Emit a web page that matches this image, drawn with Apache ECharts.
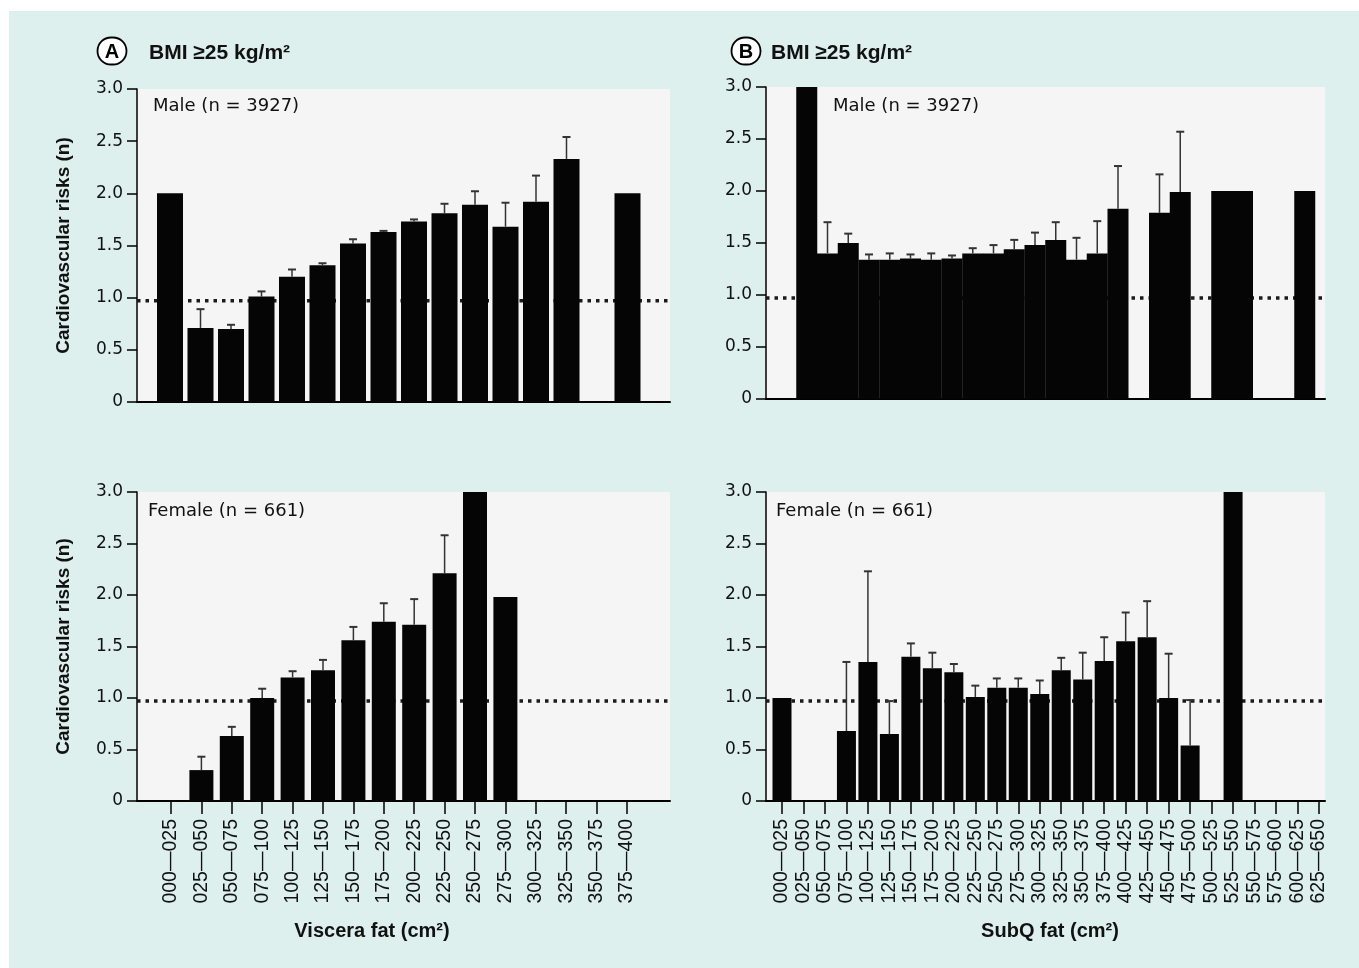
<!DOCTYPE html>
<html><head><meta charset="utf-8">
<script src="https://cdn.jsdelivr.net/npm/echarts@6/dist/echarts.min.js"></script>
<style>
html,body{margin:0;padding:0;background:#fff;}
#bg{position:absolute;left:9px;top:11px;right:0;bottom:0;background:#ddf0ee;}
#chart{position:absolute;left:0;top:0;width:1359px;height:968px;}
</style></head><body><div id="bg"></div><div id="chart"></div>
<script>
// ---------------- data ----------------
const visceraCats = ['000\u2014025','025\u2014050','050\u2014075','075\u2014100','100\u2014125','125\u2014150','150\u2014175','175\u2014200','200\u2014225','225\u2014250','250\u2014275','275\u2014300','300\u2014325','325\u2014350','350\u2014375','375\u2014400'];
const subqCats = ['000\u2014025','025\u2014050','050\u2014075','075\u2014100','100\u2014125','125\u2014150','150\u2014175','175\u2014200','200\u2014225','225\u2014250','250\u2014275','275\u2014300','300\u2014325','325\u2014350','350\u2014375','375\u2014400','400\u2014425','425\u2014450','450\u2014475','475\u2014500','500\u2014525','525\u2014550','550\u2014575','575\u2014600','600\u2014625','625\u2014650'];
const yTicks = [0, 0.5, 1.0, 1.5, 2.0, 2.5, 3.0];
const refLevel = 0.97;

// Male, viscera fat
const maleVisc      = [2.00, 0.71, 0.70, 1.01, 1.20, 1.31, 1.52, 1.63, 1.73, 1.81, 1.89, 1.68, 1.92, 2.33, null, 2.00];
const maleViscUpper = [null, 0.89, 0.74, 1.06, 1.27, 1.33, 1.56, 1.64, 1.75, 1.90, 2.02, 1.91, 2.17, 2.54, null, null];
// Female, viscera fat
const femaleVisc      = [null, 0.30, 0.63, 1.00, 1.20, 1.27, 1.56, 1.74, 1.71, 2.21, 3.00, 1.98, null, null, null, null];
const femaleViscUpper = [null, 0.43, 0.72, 1.09, 1.26, 1.37, 1.69, 1.92, 1.96, 2.58, null, null, null, null, null, null];
// Male, SubQ fat
const maleSubq      = [null, 3.00, 1.40, 1.50, 1.34, 1.34, 1.35, 1.34, 1.35, 1.40, 1.40, 1.44, 1.48, 1.53, 1.34, 1.40, 1.83, null, 1.79, 1.99, null, 2.00, 2.00, null, null, 2.00];
const maleSubqUpper = [null, null, 1.70, 1.59, 1.39, 1.40, 1.39, 1.40, 1.38, 1.45, 1.48, 1.53, 1.60, 1.70, 1.55, 1.71, 2.24, null, 2.16, 2.57, null, null, null, null, null, null];
// Female, SubQ fat
const femaleSubq      = [1.00, null, null, 0.68, 1.35, 0.65, 1.40, 1.29, 1.25, 1.01, 1.10, 1.10, 1.04, 1.27, 1.18, 1.36, 1.55, 1.59, 1.00, 0.54, null, 3.00, null, null, null, null];
const femaleSubqUpper = [null, null, null, 1.35, 2.23, 0.97, 1.53, 1.44, 1.33, 1.12, 1.19, 1.19, 1.17, 1.39, 1.44, 1.59, 1.83, 1.94, 1.43, 0.98, null, null, null, null, null, null];

// ---------------- layout ----------------
const panels = [
  {left:137, top:89,  width:533, height:313, first:170, step:30.5,  barW:26, cats:visceraCats, vals:maleVisc,   up:maleViscUpper,   showX:false, yName:'Cardiovascular risks (n)'},
  {left:766, top:87,  width:559, height:312, first:786, step:20.75, barW:21, cats:subqCats,    vals:maleSubq,   up:maleSubqUpper,   showX:false, yName:''},
  {left:137, top:492, width:533, height:309, first:171, step:30.4,  barW:24, cats:visceraCats, vals:femaleVisc, up:femaleViscUpper, showX:true,  yName:'Cardiovascular risks (n)'},
  {left:766, top:492, width:559, height:309, first:782, step:21.48, barW:19, cats:subqCats,    vals:femaleSubq, up:femaleSubqUpper, showX:true,  yName:''}
];
const FONT = '"DejaVu Sans", sans-serif';
const FONT2 = '"Liberation Sans", Arial, sans-serif';
const INK = '#111';

const grid = [], xAxis = [], yAxis = [], series = [];
panels.forEach((p, k) => {
  const xMin = -(p.first - p.left) / p.step;
  const xMax = xMin + p.width / p.step;
  const idx = p.cats.map((c, i) => i);
  grid.push({left:p.left, top:p.top, width:p.width, height:p.height, show:true, backgroundColor:'#f5f5f5', borderWidth:0});
  xAxis.push({
    type:'value', gridIndex:k, min:xMin, max:xMax,
    axisLine:{show:true, onZero:false, lineStyle:{color:'#000', width:2}},
    splitLine:{show:false},
    axisTick:{show:p.showX, length:13, customValues:idx, lineStyle:{color:'#000', width:1.5}},
    axisLabel:{show:p.showX, customValues:idx, rotate:90, margin:18, fontFamily:FONT2, fontSize:19.5, color:INK,
      formatter: v => p.cats[Math.round(v)] || ''}
  });
  yAxis.push({
    type:'value', gridIndex:k, min:0, max:3, interval:0.5,
    name:p.yName, nameLocation:'middle', nameGap:64, nameRotate:90,
    nameTextStyle:{fontFamily:FONT2, fontWeight:'bold', fontSize:19, color:INK},
    axisLine:{show:true, onZero:false, lineStyle:{color:'#000', width:1.5}},
    axisTick:{show:true, length:10, lineStyle:{color:'#000', width:1.5}},
    splitLine:{show:false},
    axisLabel:{margin:14, fontFamily:FONT, fontSize:17, color:INK,
      formatter: v => v === 0 ? '0' : v.toFixed(1)}
  });
  // reference dotted line
  series.push({
    type:'line', xAxisIndex:k, yAxisIndex:k, z:1, silent:true, symbol:'none', animation:false,
    data:[[xMin, refLevel], [xMax, refLevel]],
    lineStyle:{color:'#1a1a1a', width:3.5, type:[3.5, 5], cap:'butt'}
  });
  // bars
  series.push({
    type:'bar', xAxisIndex:k, yAxisIndex:k, z:3, barWidth:p.barW, animation:false,
    itemStyle:{color:'#050505'},
    data:p.vals.map((v, i) => v == null ? null : [i, v]).filter(d => d)
  });
  // error bars
  series.push({
    type:'custom', xAxisIndex:k, yAxisIndex:k, z:4, animation:false,
    data:p.vals.map((v, i) => (v == null || p.up[i] == null) ? null : [i, v, p.up[i]]).filter(d => d),
    renderItem:(params, api) => {
      const a = api.coord([api.value(0), api.value(1)]);
      const b = api.coord([api.value(0), api.value(2)]);
      const st = {stroke:'#333', lineWidth:1.5};
      return {type:'group', children:[
        {type:'line', shape:{x1:a[0], y1:a[1], x2:b[0], y2:b[1]}, style:st},
        {type:'line', shape:{x1:b[0]-4, y1:b[1], x2:b[0]+4, y2:b[1]}, style:{stroke:'#333', lineWidth:2}}
      ]};
    }
  });
});

function circled(letter, cx, cy) {
  return {type:'group', x:cx, y:cy, children:[
    {type:'rect', shape:{x:-14.5, y:-13.5, width:29, height:27, r:13.5}, style:{fill:'#fff', stroke:'#000', lineWidth:1.8}},
    {type:'text', style:{text:letter, x:0, y:1, font:'bold 20px ' + FONT2, fill:'#000', textAlign:'center', textVerticalAlign:'middle'}}
  ]};
}
function txt(s, x, y, font, align) {
  return {type:'text', style:{text:s, x:x, y:y, font:font, fill:INK, textAlign:align || 'left', textVerticalAlign:'middle'}};
}

const graphic = [
  circled('A', 112, 51),
  circled('B', 746, 51),
  txt('BMI \u226525 kg/m\u00b2', 149, 53, 'bold 21px ' + FONT2),
  txt('BMI \u226525 kg/m\u00b2', 771, 53, 'bold 21px ' + FONT2),
  txt('Male (n = 3927)', 153, 106, '18px ' + FONT),
  txt('Male (n = 3927)', 833, 106, '18px ' + FONT),
  txt('Female (n = 661)', 148, 511, '18px ' + FONT),
  txt('Female (n = 661)', 776, 511, '18px ' + FONT),
  txt('Viscera fat (cm\u00b2)', 372, 931, 'bold 20px ' + FONT2, 'center'),
  txt('SubQ fat (cm\u00b2)', 1050, 931, 'bold 20px ' + FONT2, 'center')
];

const chart = echarts.init(document.getElementById('chart'), null, {renderer:'canvas'});
chart.setOption({
  backgroundColor:'transparent',
  animation:false,
  grid, xAxis, yAxis, series, graphic
});
</script></body></html>
